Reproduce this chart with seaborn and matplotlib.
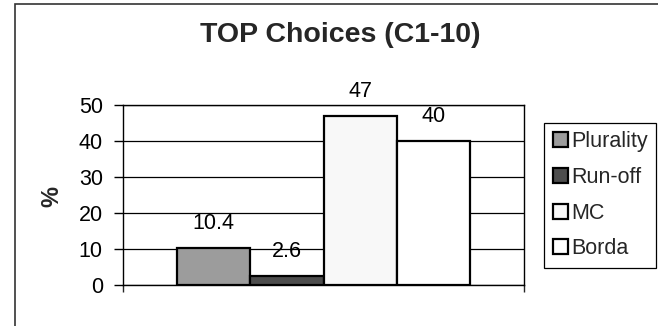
import matplotlib
matplotlib.use("Agg")
import matplotlib.pyplot as plt
import matplotlib.patches as mpatches
import seaborn as sns
import pandas as pd

# Chart data
methods = ["Plurality", "Run-off", "MC", "Borda"]
values = [10.4, 2.6, 47, 40]
colors = ["#9c9c9c", "#4d4d4d", "#f8f8f8", "#ffffff"]
y_ticks = [0, 10, 20, 30, 40, 50]
title = "TOP Choices (C1-10)"
y_label = "%"

sns.set_style("white")
plt.rcParams["font.family"] = ["Liberation Sans", "DejaVu Sans"]

W, H = 658, 326
fig = plt.figure(figsize=(W / 100, H / 100), dpi=100)
fig.patch.set_facecolor("white")

# plot area in pixel coordinates
left_px, right_px, top_px, bottom_px = 122.7, 524.3, 105, 285
ax = fig.add_axes([left_px / W, 1 - bottom_px / H,
                   (right_px - left_px) / W, (bottom_px - top_px) / H])

df = pd.DataFrame({"group": ["C1-10"] * len(methods),
                   "method": methods, "value": values})
sns.barplot(data=df, x="group", y="value", hue="method",
            hue_order=methods, palette=colors, width=0.728,
            edgecolor="black", linewidth=1.6, saturation=1,
            legend=False, ax=ax)

ax.set_xlim(-0.5, 0.5)
ax.set_ylim(0, 50)
ax.set_yticks(y_ticks)
ax.set_xticks([-0.5, 0.5])
ax.set_xticklabels([])
ax.set_xlabel("")
ax.set_ylabel("")
ax.tick_params(axis="y", direction="out", length=6.8, width=1,
               pad=7.5, labelsize=15.5, left=True, colors="black")
ax.tick_params(axis="x", direction="out", length=5, width=1, bottom=True)
ax.yaxis.grid(True, color="black", linewidth=0.9)
ax.set_axisbelow(True)
for s in ax.spines.values():
    s.set_visible(True)
    s.set_color("black")
    s.set_linewidth(1)

# value labels above each bar
for container, v in zip(ax.containers, values):
    for rect in container:
        ax.annotate(f"{v:g}", (rect.get_x() + rect.get_width() / 2, rect.get_height()),
                    xytext=(0, 13.7), textcoords="offset points",
                    ha="center", va="baseline", fontsize=15.5, color="black")

# title and axis label
fig.text(340 / W, 1 - 41.7 / H, title, ha="center", va="baseline",
         fontsize=20.5, fontweight="bold")
fig.text(52 / W, 1 - 196.5 / H, y_label, ha="center", va="center",
         rotation=90, fontsize=17, fontweight="bold")

# legend
handles = [mpatches.Patch(facecolor=c, edgecolor="black", linewidth=1.6, label=m)
           for m, c in zip(methods, colors)]
leg = fig.legend(handles=handles, loc="upper left",
                 bbox_to_anchor=(544 / W, 1 - 122.7 / H),
                 bbox_transform=fig.transFigure, borderaxespad=0,
                 frameon=True, fancybox=False, edgecolor="black",
                 framealpha=1, fontsize=15.5, handlelength=0.7,
                 handleheight=0.7, handletextpad=0.15, borderpad=0.4,
                 labelspacing=0.68)
leg.get_frame().set_linewidth(0.9)

# chart area border
fig.add_artist(mpatches.Rectangle((15 / W, -0.5), 2, (1 - 4 / H) + 0.5,
                                  transform=fig.transFigure, fill=False,
                                  edgecolor="#333333", linewidth=1.2))

fig.savefig("out.png", dpi=100, facecolor="white")
